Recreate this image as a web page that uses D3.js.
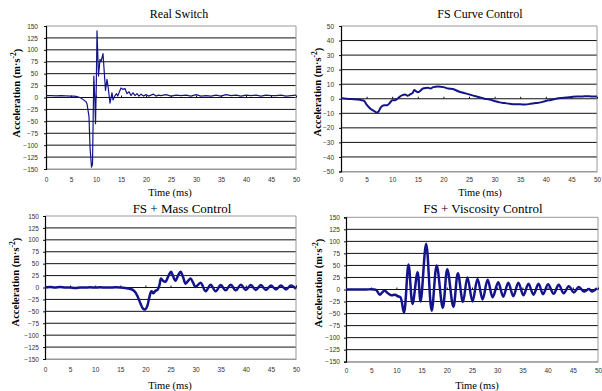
<!DOCTYPE html>
<html>
<head>
<meta charset="utf-8">
<script src="https://cdn.jsdelivr.net/npm/d3@7"></script>
<style>
  body { margin: 0; background: #fff; }
  svg { display: block; }
  .tick text { font-family: "Liberation Sans", Arial, sans-serif; font-size: 6.5px; fill: #333; }
</style>
</head>
<body>
<div id="chart"></div>
<script>
// --- data ---
var xTicks = [0, 5, 10, 15, 20, 25, 30, 35, 40, 45, 50];
var yTicksWide = [-150, -125, -100, -75, -50, -25, 0, 25, 50, 75, 100, 125, 150];
var yTicksNarrow = [-50, -40, -30, -20, -10, 0, 10, 20, 30, 40, 50];

var realT = [0, 1, 2, 3, 4, 5, 5.5, 6, 6.5, 7, 7.5, 8, 8.2, 8.6, 8.8, 9.1, 9.3, 9.56, 9.75, 9.9, 10.05, 10.2, 10.5, 10.8, 11.0, 11.4, 11.9, 12.2, 12.45, 12.8, 13.2, 13.4, 13.8, 14.1, 14.35, 14.6, 15.0, 15.4, 15.8, 16.2, 16.6, 17.0, 17.4, 17.8, 18.2, 18.6, 19.0, 19.5, 20, 20.5, 21, 21.5, 22, 22.5, 23, 24, 25, 26, 27, 28, 29, 30, 31, 32, 33, 34, 35, 36, 37, 38, 39, 40, 41, 42, 43, 44, 45, 46, 47, 48, 49, 50];
var realA = [4, 4, 3.5, 4, 3.5, 3, 3, 2.5, 1, -1, -5, -9, -13, -40, -104, -146, -140, 45, 0, -55, 20, 140, 45, 80, 75, 92, 15, 38, 20, -12, 10, -5, 4, 8, 3, 10, 20, 17, 19, 8, 12, 4, 10, 4, 8, 3, 7, 3, 6, 3, 5, 7, 3, 5, 4, 6, 3, 5, 4, 5, 3, 6, 3, 4, 3, 5, 3, 6, 4, 5, 3, 5, 4, 5, 3, 5, 4, 4, 5, 3, 4, 5, 4];

var curveT = [0, 1, 2, 3, 4, 4.5, 5, 5.5, 6, 6.5, 7, 7.3, 7.6, 8, 8.5, 9, 9.5, 10, 10.5, 11, 11.5, 12, 12.5, 13, 13.5, 14, 14.3, 14.7, 15, 15.5, 16, 17, 17.5, 18, 19, 20, 21, 22, 23, 24, 25, 26, 27, 28, 29, 30, 31, 32, 33, 34, 35, 36, 37, 38, 39, 40, 41, 42, 43, 44, 45, 46, 47, 48, 49, 50];
var curveA = [0.5, 0, -0.2, -0.5, -1, -1.5, -4, -6, -7.5, -8.5, -9.5, -9, -7, -5, -4.5, -4.5, -3, -1, -1, 0, 1.5, 2.5, 3, 2, 3, 4, 6, 5, 4.5, 5.5, 7, 7.5, 7, 8, 8.5, 8, 7, 6.5, 5, 4, 3, 2, 1, 0, -0.5, -1.5, -2.5, -3, -3.5, -3.8, -3.8, -4, -3.5, -3, -2.5, -1.5, -0.8, 0, 0.5, 0.8, 1.2, 1.5, 1.5, 1.8, 1.5, 1.5];

var massT = [0, 1, 2, 3, 4, 5, 6, 7, 8, 9, 10, 11, 12, 13, 14, 15, 16, 16.5, 17, 17.5, 18, 18.5, 19, 19.5, 20, 20.4, 20.8, 21.2, 21.6, 22, 22.4, 22.8, 23.1, 23.5, 24, 24.5, 25.1, 25.5, 26, 26.5, 27, 27.5, 28, 28.5, 29, 29.5, 30, 31, 32, 33, 34, 35, 36, 37, 38, 39, 40, 41, 42, 43, 44, 45, 46, 47, 48, 49, 50];
var massA = [0, 1, 0, 1, 0, 0, -1, 0, 0, 0.5, 0, 0.5, 0, 0, 0.5, 0, -1, -2, -3, -5, -10, -20, -33, -44, -46, -38, -20, -8, -12, -7, -5, 5, 19, 14, 12, 22, 33, 24, 14, 25, 33, 22, 8, 14, 19, 10, 1, 10, -8, 6, -8, 5, -6, 6, -6, 6, -5, 5, -5, 5, -5, 4, -4, 4, -4, 4, -3];

var viscT = [0, 1, 2, 3, 4, 5, 5.5, 6, 6.7, 7.2, 7.7, 8.2, 9, 9.7, 10.3, 10.8, 11.5, 12.4, 13.2, 14.2, 14.8, 15.9, 17.0, 18.0, 19.2, 20.1, 21.3, 22.2, 23.2, 24.1, 25.1, 26.1, 27.1, 28.1, 29.1, 30.2, 31.2, 32.2, 33.2, 34.2, 35.2, 36.2, 37.2, 38.2, 39.1, 40.1, 41.2, 42.2, 43.2, 44.2, 45.2, 46.2, 47.2, 48.2, 48.8, 49.8];
var viscA = [0, 0, 0, 0, 0, 0.5, 0, -1, -11, -6, -2, -7, -12, -11, -14, -16, -48, 52, -30, 36, -25, 95, -44, 50, -38, 42, -36, 34, -26, 25, -25, 22, -21, 20, -16, 15, -15, 14, -14, 14, -12, 12, -11, 12, -10, 11, -9, 10, -8, 7, -6, 5, -4, 1, -4, 3];

// --- layout ---
var svg = d3.select('#chart').append('svg')
  .attr('width', 602)
  .attr('height', 391);

var panels = [
  { title: 'Real Switch', t: realT, a: realA, ticks: yTicksWide, x0: 46, x1: 296, y0: 26, y1: 169,
    lw: 1.2, curve: d3.curveLinear, titleX: 179, titleY: 18, titleSize: 12, labX: 16, labY: 93, timeY: 196, timeX: 170, pad: 8, lpad: 6 },
  { title: 'FS Curve Control', t: curveT, a: curveA, ticks: yTicksNarrow, x0: 341, x1: 597, y0: 26, y1: 171.5,
    lw: 2, curve: d3.curveMonotoneX, titleX: 480, titleY: 18, titleSize: 12, labX: 317, labY: 92, timeY: 196, timeX: 480, pad: 6, lpad: 5 },
  { title: 'FS + Mass Control', t: massT, a: massA, ticks: yTicksWide, x0: 45, x1: 296, y0: 216, y1: 359,
    lw: 2.5, curve: d3.curveCatmullRom.alpha(0.5), titleX: 182, titleY: 212.5, titleSize: 13, labX: 15, labY: 282, timeY: 389, timeX: 170, pad: 8, lpad: 4 },
  { title: 'FS + Viscosity Control', t: viscT, a: viscA, ticks: yTicksWide, x0: 346, x1: 598, y0: 217.3, y1: 361.7,
    lw: 2.5, curve: d3.curveCatmullRom.alpha(0.5), titleX: 483, titleY: 212.5, titleSize: 13, labX: 318, labY: 283, timeY: 389, timeX: 477, pad: 7, lpad: 4 }
];

panels.forEach(function(p) {
  var xScale = d3.scaleLinear().domain([0, 50]).range([p.x0, p.x1]);
  var yScale = d3.scaleLinear().domain([p.ticks[0], p.ticks[p.ticks.length - 1]]).range([p.y1, p.y0]);
  var g = svg.append('g');

  // horizontal grid lines
  g.append('g').selectAll('line')
    .data(p.ticks)
    .enter()
    .append('line')
    .attr('x1', p.x0).attr('x2', p.x1)
    .attr('y1', function(d) { return yScale(d); })
    .attr('y2', function(d) { return yScale(d); })
    .attr('stroke', function(d, i) { return (i === 0 || i === p.ticks.length - 1) ? '#999' : '#111'; })
    .attr('stroke-width', 1);

  // right border
  g.append('line')
    .attr('x1', p.x1).attr('x2', p.x1)
    .attr('y1', p.y0).attr('y2', p.y1)
    .attr('stroke', '#999');

  // x labels at bottom
  var xAxis = g.append('g')
    .attr('transform', 'translate(0,' + p.y1 + ')')
    .call(d3.axisBottom(xScale).tickValues(xTicks).tickSize(0).tickPadding(p.pad));
  xAxis.select('.domain').attr('stroke', '#999');

  // tick marks on the zero line
  var zAxis = g.append('g')
    .attr('transform', 'translate(0,' + yScale(0) + ')')
    .call(d3.axisTop(xScale).tickValues(xTicks).tickSize(2).tickFormat(''));
  zAxis.select('.domain').remove();
  zAxis.selectAll('.tick line').attr('stroke', '#111');

  // y axis
  var yAxis = g.append('g')
    .attr('transform', 'translate(' + p.x0 + ',0)')
    .call(d3.axisLeft(yScale).tickValues(p.ticks).tickSize(2).tickPadding(p.lpad));
  yAxis.select('.domain').attr('stroke', '#000').attr('stroke-width', 1.2);
  yAxis.selectAll('.tick line').attr('stroke', '#111');

  // series
  var line = d3.line()
    .x(function(d, i) { return xScale(p.t[i]); })
    .y(function(d) { return yScale(d); })
    .curve(p.curve);

  g.append('path')
    .attr('d', line(p.a))
    .attr('fill', 'none')
    .attr('stroke', '#14148a')
    .attr('stroke-width', p.lw)
    .attr('stroke-linejoin', 'round');

  // title
  g.append('text')
    .attr('x', p.titleX).attr('y', p.titleY)
    .attr('text-anchor', 'middle')
    .style('font-family', '"Liberation Serif", "Times New Roman", serif')
    .style('font-size', p.titleSize + 'px')
    .text(p.title);

  // x title
  g.append('text')
    .attr('x', p.timeX).attr('y', p.timeY)
    .attr('text-anchor', 'middle')
    .style('font-family', '"Liberation Serif", "Times New Roman", serif')
    .style('font-size', '10.5px')
    .text('Time (ms)');

  // y title
  var yl = g.append('text')
    .attr('transform', 'translate(' + p.labX + ',' + p.labY + ') rotate(-90)')
    .attr('text-anchor', 'middle')
    .attr('dy', '0.35em')
    .style('font-family', '"Liberation Serif", "Times New Roman", serif')
    .style('font-size', '10.5px')
    .style('font-weight', 'bold');
  yl.append('tspan').text('Acceleration (m\u00b7s');
  yl.append('tspan').attr('dy', '-0.45em').style('font-size', '7.5px').text('-2');
  yl.append('tspan').attr('dy', '0.45em').text(')');
});
</script>
</body>
</html>
